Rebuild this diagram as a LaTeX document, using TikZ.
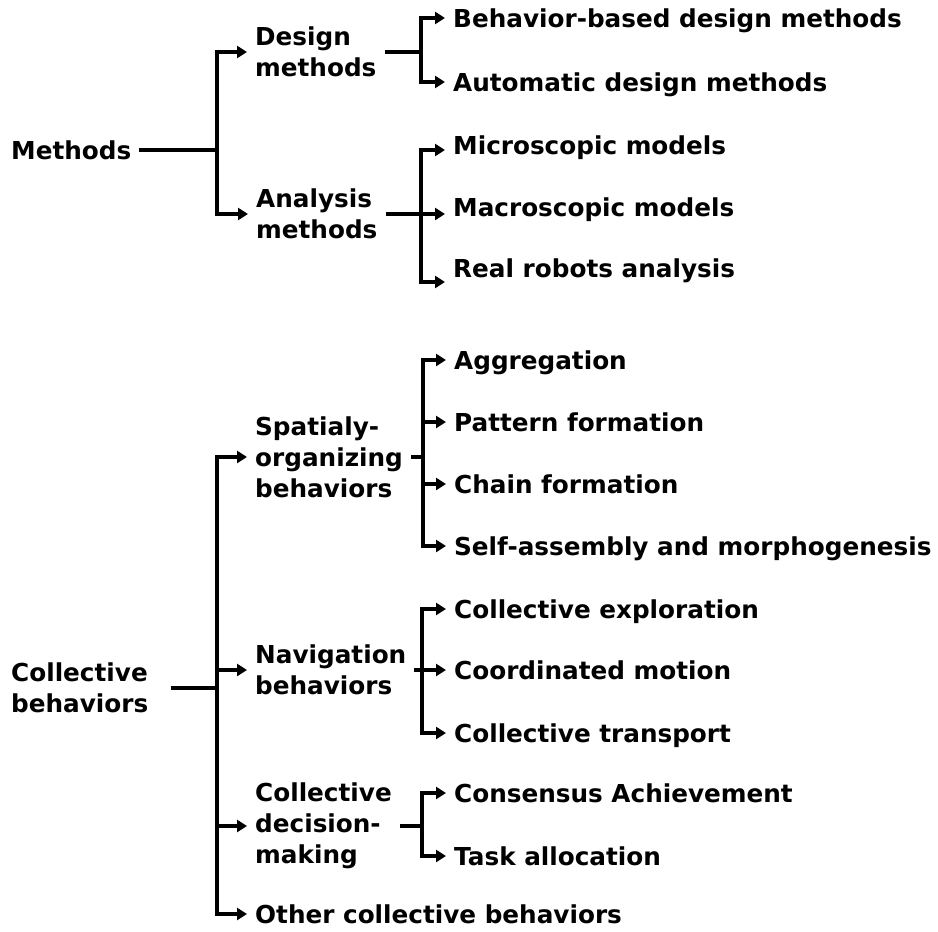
\documentclass[tikz,border=0pt]{standalone}
\usepackage{fontspec}
\setmainfont{DejaVu Sans}
\usetikzlibrary{arrows.meta}

\begin{document}
\begin{tikzpicture}[x=1pt,y=-1pt,
    every node/.style={font=\bfseries\fontsize{24.7}{31}\selectfont,anchor=west,inner ysep=0pt,inner xsep=8pt},
    item/.style={text height=18pt,text depth=0pt},
    topic/.style={align=left},
    link/.style={line width=3.2pt},
    arr/.style={link,-{Triangle[length=10pt,width=12pt]}}]
    \useasboundingbox (0,0) rectangle (938,932);
    % methods
    \node[item] (methods) at (3,150) {Methods};
    \node[topic] (design) at (247,52) {Design\\methods};
    \node[topic] (analysis) at (248,214) {Analysis\\methods};
    \node[item] (behav) at (445,18) {Behavior-based design methods};
    \node[item] (auto) at (445,82) {Automatic design methods};
    \node[item] (micro) at (445,145) {Microscopic models};
    \node[item] (macro) at (445,207) {Macroscopic models};
    \node[item] (real) at (445,268) {Real robots analysis};
    \coordinate (jm) at (217,150);
    \coordinate (jd) at (421,52);
    \coordinate (ja) at (421,214);
    \draw[link] (methods) -- (jm)
          (design) -- (jd)
          (analysis) -- (ja);
    \draw[arr] (jm) |- (design.west);
    \draw[arr] (jm) |- (analysis.west);
    \draw[arr] (jd) |- (behav.west);
    \draw[arr] (jd) |- (auto.west);
    \draw[arr] (ja) |- ([yshift=-5pt]micro.west);
    \draw[arr] (ja) |- ([yshift=-7pt]macro.west);
    \draw[arr] (ja) |- ([yshift=-14pt]real.west);
    % collective behaviors
    \node[topic] (coll) at (3,688) {Collective\\behaviors};
    \node[topic] (spatial) at (247,457) {Spatialy-\\organizing\\behaviors};
    \node[topic] (navig) at (247,670) {Navigation\\behaviors};
    \node[topic] (decis) at (247,826) {Collective\\decision-\\making};
    \node[item] (other) at (247,914) {Other collective behaviors};
    \node[item] (aggr) at (446,360) {Aggregation};
    \node[item] (pattern) at (446,422) {Pattern formation};
    \node[item] (chain) at (446,484) {Chain formation};
    \node[item] (selfasm) at (446,546) {Self-assembly and morphogenesis};
    \node[item] (explo) at (446,609) {Collective exploration};
    \node[item] (motion) at (446,670) {Coordinated motion};
    \node[item] (transp) at (446,733) {Collective transport};
    \node[item] (consens) at (446,793) {Consensus Achievement};
    \node[item] (task) at (446,856) {Task allocation};
    \coordinate (jc) at (217,688);
    \coordinate (js) at (423,457);
    \coordinate (jn) at (422,670);
    \coordinate (jk) at (422,826);
    \draw[link,shorten <=14pt] (coll) -- (jc);
    \draw[link] (spatial) -- (js)
          (navig) -- (jn)
          (decis) -- (jk);
    \draw[arr] (jc) |- (spatial.west);
    \draw[arr] (jc) |- (navig.west);
    \draw[arr] (jc) |- (decis.west);
    \draw[arr] (jc) |- (other.west);
    \draw[arr] (js) |- (aggr.west);
    \draw[arr] (js) |- (pattern.west);
    \draw[arr] (js) |- (chain.west);
    \draw[arr] (js) |- (selfasm.west);
    \draw[arr] (jn) |- (explo.west);
    \draw[arr] (jn) |- (motion.west);
    \draw[arr] (jn) |- (transp.west);
    \draw[arr] (jk) |- (consens.west);
    \draw[arr] (jk) |- (task.west);
\end{tikzpicture}
\end{document}
